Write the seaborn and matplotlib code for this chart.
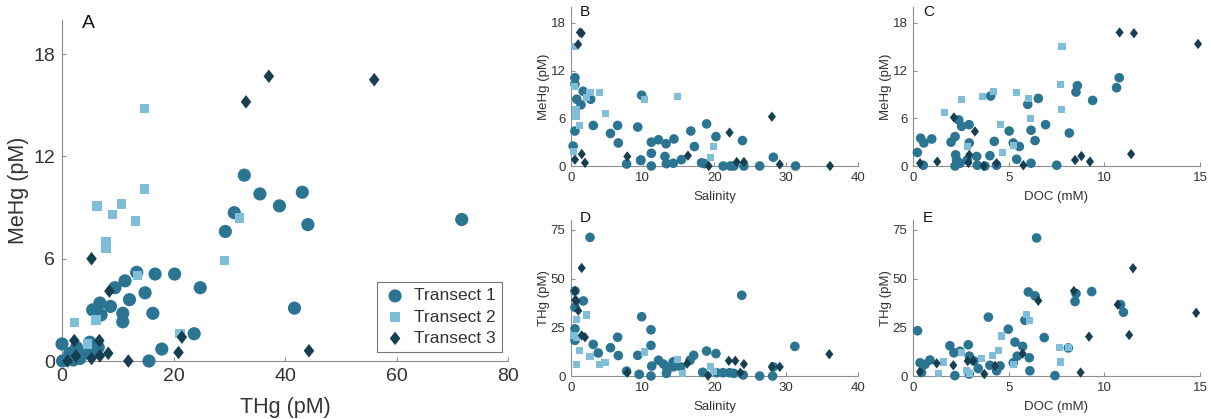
import numpy as np
import pandas as pd
import matplotlib
matplotlib.use("Agg")
import matplotlib.pyplot as plt
import seaborn as sns
from matplotlib.path import Path

sns.set_theme(style="white")
plt.rcParams['font.family'] = ['Liberation Sans', 'DejaVu Sans']

# ---------------- data ----------------
transects = ["Transect 1", "Transect 2", "Transect 3"]

# Panel A: THg vs MeHg
A_thg_t1 = [71.7, 32.7, 35.5, 43.1, 39.0, 44.1, 30.9, 29.3, 41.7, 24.8, 23.7, 20.2, 16.7, 13.4, 14.9, 16.3,
            12.1, 11.3, 9.5, 10.9, 10.9, 8.7, 6.8, 5.5, 7.0, 17.9, 15.6, 0.0, 0.1, 2.0, 2.6, 3.8, 5.0, 5.6,
            1.4, 3.2, 6.5]
A_mehg_t1 = [8.3, 10.9, 9.8, 9.9, 9.1, 8.0, 8.7, 7.6, 3.1, 4.3, 1.6, 5.1, 5.1, 5.2, 4.0, 2.8,
             3.6, 4.7, 4.3, 2.8, 2.3, 3.2, 3.4, 3.0, 2.7, 0.7, 0.0, 1.0, 0.0, 0.06, 0.8, 0.45, 1.1, 0.6,
             0.45, 0.15, 0.8]
A_thg_t2 = [14.8, 14.8, 6.3, 10.7, 9.1, 13.2, 7.9, 7.9, 31.8, 29.1, 13.5, 2.2, 6.1, 4.6, 21.2]
A_mehg_t2 = [14.8, 10.1, 9.1, 9.2, 8.6, 8.2, 7.0, 6.6, 8.4, 5.9, 5.0, 2.25, 2.4, 1.0, 1.6]
A_thg_t3 = [37.1, 56.0, 33.0, 5.3, 8.5, 21.5, 20.9, 44.3, 11.9, 6.7, 2.2, 8.3, 5.3, 2.5, 1.0, 6.8]
A_mehg_t3 = [16.7, 16.5, 15.2, 6.0, 4.1, 1.4, 0.5, 0.6, 0.0, 1.2, 1.2, 0.45, 0.15, 0.3, 0.0, 0.3]

# Panel B: Salinity vs MeHg
B_sal_t1 = [0.55, 0.55, 1.7, 0.8, 1.4, 2.75, 9.85, 3.1, 6.5, 5.5, 6.6, 9.3, 0.55, 0.3, 9.75, 7.75, 11.2,
            11.2, 11.2, 12.2, 13.25, 14.35, 13.1, 13.3, 18.9, 20.2, 17.2, 18.6, 14.25, 15.4, 16.7, 23.9,
            28.2, 26.3, 31.3, 21.2, 22.2, 22.7, 24.1, 18.2, 9.7]
B_mehg_t1 = [11.1, 10.3, 9.4, 8.4, 7.7, 8.4, 8.9, 5.1, 5.1, 4.1, 2.9, 4.9, 4.4, 2.5, 0.76, 0.25, 0.0,
             1.6, 3.0, 3.3, 2.8, 3.4, 1.2, 0.3, 5.3, 3.7, 2.45, 0.3, 0.35, 0.8, 4.4, 3.2,
             1.1, 0.0, 0.0, 0.0, 0.0, 0.0, 0.0, 0.4, 0.7]
B_sal_t2 = [0.55, 2.65, 3.95, 2.2, 10.2, 14.9, 4.75, 0.7, 0.7, 1.25, 19.9, 19.5, 0.3, 0.55]
B_mehg_t2 = [15.0, 9.3, 9.2, 8.6, 8.4, 8.8, 6.6, 7.1, 6.2, 5.1, 2.4, 1.1, 1.8, 10.0]
B_sal_t3 = [1.25, 1.5, 1.0, 1.5, 0.55, 1.95, 7.85, 16.3, 19.2, 22.1, 28.0, 23.1, 24.1, 29.1, 36.1]
B_mehg_t3 = [16.8, 16.7, 15.3, 1.5, 0.8, 0.4, 1.2, 1.3, 0.0, 4.2, 6.2, 0.5, 0.5, 0.2, 0.0]

# Panel C: DOC vs MeHg
C_doc_t1 = [10.64, 10.78, 8.59, 8.52, 9.39, 4.06, 6.55, 6.0, 6.93, 8.17, 2.39, 2.54, 2.93, 2.2, 1.99,
            0.4, 0.57, 0.98, 0.23, 0.54, 2.94, 2.23, 2.28, 2.2, 3.33, 3.36, 4.02, 4.25, 5.03, 5.24,
            5.56, 5.42, 6.17, 6.38, 6.17, 7.51, 2.46, 2.84, 4.37, 3.76]
C_mehg_t1 = [9.85, 11.1, 10.1, 9.3, 8.25, 8.8, 8.5, 7.75, 5.2, 4.15, 5.8, 5.0, 5.2, 3.7, 3.0,
             3.5, 2.9, 3.4, 1.7, 0.1, 2.9, 1.4, 0.75, 0.0, 1.2, 0.1, 1.3, 3.1, 4.4, 2.9,
             2.45, 0.85, 4.5, 3.2, 0.35, 0.1, 0.35, 0.76, 0.1, 0.0]
C_doc_t2 = [7.79, 7.72, 7.77, 5.4, 4.2, 3.64, 2.54, 1.64, 6.03, 6.15, 4.58, 5.24, 4.69, 2.86]
C_mehg_t2 = [15.0, 10.3, 7.1, 9.3, 9.4, 8.8, 8.4, 6.7, 8.5, 6.0, 5.2, 2.6, 1.7, 2.45]
C_doc_t3 = [10.8, 11.55, 14.9, 2.14, 3.24, 2.94, 1.27, 0.37, 2.9, 3.7, 4.37, 5.77, 8.47, 8.8, 9.25, 11.4]
C_mehg_t3 = [16.8, 16.7, 15.35, 6.1, 4.35, 1.4, 0.55, 0.35, 0.4, 0.0, 0.35, 0.1, 0.75, 1.25, 0.55, 1.5]

# Panel D: Salinity vs THg
D_sal_t1 = [2.65, 0.56, 1.72, 0.56, 0.56, 0.56, 3.1, 3.8, 6.5, 5.5, 6.6, 9.85, 11.15, 11.15, 9.3, 11.25,
            9.5, 11.15, 7.75, 12.2, 12.9, 13.3, 13.8, 14.25, 17.1, 16.6, 18.9, 20.2, 18.35, 20.3,
            23.8, 31.2, 28.2, 28.1, 26.3, 21.2, 22.1, 22.7, 24.0, 15.3, 14.3, 13.4]
D_thg_t1 = [71.1, 43.6, 38.5, 35.2, 24.2, 18.3, 16.2, 11.8, 19.9, 14.5, 10.5, 30.4, 23.7, 15.7, 10.6, 5.1,
            0.85, 0.0, 2.5, 8.1, 6.1, 1.35, 4.7, 7.3, 10.6, 8.1, 12.8, 11.5, 1.9, 1.7,
            41.4, 15.2, 4.7, 0.0, 0.0, 1.7, 1.7, 1.35, 0.5, 4.7, 4.7, 3.0]
D_sal_t2 = [2.1, 0.79, 0.79, 1.25, 2.65, 3.95, 4.74, 0.79, 0.3, 10.2, 14.9, 15.5, 19.4, 19.9]
D_thg_t2 = [31.3, 29.2, 19.9, 13.2, 10.1, 6.1, 6.8, 6.1, 20.8, 12.3, 8.6, 1.35, 4.7, 2.2]
D_sal_t3 = [1.49, 0.56, 0.79, 1.02, 1.5, 1.95, 0.56, 7.85, 16.2, 19.1, 22.0, 22.9, 24.1, 23.6, 28.0, 29.1, 36.0]
D_thg_t3 = [55.4, 43.6, 38.5, 33.5, 20.8, 19.9, 38.9, 1.7, 6.4, 0.2, 7.8, 7.8, 6.1, 1.7, 4.7, 4.7, 11.2]

# Panel E: DOC vs THg
E_doc_t1 = [6.46, 0.24, 3.94, 6.03, 6.38, 9.34, 8.52, 8.47, 10.85, 11.0, 5.85, 4.98, 6.86, 8.12, 5.33,
            5.73, 5.45, 6.08, 6.11, 7.42, 1.93, 2.14, 2.89, 2.46, 2.94, 3.19, 0.89, 0.37, 0.63, 0.45,
            2.19, 2.94, 3.41, 4.02, 4.37, 5.24, 4.55]
E_thg_t1 = [70.8, 23.2, 30.2, 43.1, 41.1, 43.3, 42.3, 38.2, 36.6, 32.7, 28.6, 24.0, 19.7, 14.4, 17.4,
            15.2, 10.2, 9.35, 2.7, 0.2, 15.5, 11.9, 16.0, 12.7, 10.2, 7.7, 8.2, 6.8, 6.0, 1.8,
            0.2, 1.0, 3.8, 5.5, 2.7, 6.8, 5.2]
E_doc_t2 = [5.94, 6.11, 4.63, 4.49, 4.16, 3.59, 1.59, 1.32, 2.54, 7.68, 8.12, 7.73, 5.24, 2.8, 2.94]
E_thg_t2 = [31.4, 28.6, 20.5, 13.0, 10.5, 8.9, 7.2, 1.5, 12.2, 14.4, 14.4, 7.2, 6.0, 2.7, 1.5]
E_doc_t3 = [11.5, 14.8, 10.7, 11.3, 9.2, 8.41, 6.55, 5.73, 8.76, 1.24, 0.37, 2.11, 2.86, 3.15, 3.73, 4.29]
E_thg_t3 = [55.3, 32.4, 36.6, 21.0, 20.2, 43.6, 38.6, 11.5, 1.8, 6.5, 2.2, 5.5, 7.7, 7.7, 1.0, 5.2]

# ---------------- style ----------------
colors = {"Transect 1": "#2b7592", "Transect 2": "#7fbdd8", "Transect 3": "#173f52"}
diamond = Path([(0, 1), (0.78, 0), (0, -1), (-0.78, 0), (0, 1)],
               [Path.MOVETO, Path.LINETO, Path.LINETO, Path.LINETO, Path.CLOSEPOLY])
markers = {"Transect 1": "o", "Transect 2": "s", "Transect 3": diamond}
big_sizes = {"Transect 1": 90, "Transect 2": 46, "Transect 3": 95}
small_sizes = {"Transect 1": 48, "Transect 2": 26, "Transect 3": 56}

spine_c = "#8f8f8f"
text_c = "#333333"

fig = plt.figure(figsize=(12.11, 4.19), dpi=100)


def draw(ax, series, sizes):
    for t, (xs, ys) in zip(transects, series):
        df = pd.DataFrame({"x": xs, "y": ys})
        sns.scatterplot(data=df, x="x", y="y", ax=ax, color=colors[t], marker=markers[t],
                        s=sizes[t], linewidth=0, edgecolor="none", label=t,
                        clip_on=False, zorder=3, legend=False)


def style(ax, xlim, ylim, xticks, yticks, xlabel, ylabel, tfs, lfs, tpad, lpad_x, lpad_y):
    ax.set_xlim(*xlim)
    ax.set_ylim(*ylim)
    ax.set_xticks(xticks)
    ax.set_yticks(yticks)
    for s in ["top", "right"]:
        ax.spines[s].set_visible(False)
    for s in ["left", "bottom"]:
        ax.spines[s].set_color(spine_c)
        ax.spines[s].set_linewidth(0.8)
        ax.spines[s].set_zorder(1)
    ax.tick_params(direction="in", length=3, width=0.8, color=spine_c, labelcolor=text_c,
                   labelsize=tfs, pad=tpad, bottom=True, left=True)
    ax.set_xlabel(xlabel, fontsize=lfs, color=text_c, labelpad=lpad_x)
    ax.set_ylabel(ylabel, fontsize=lfs, color=text_c, labelpad=lpad_y)
    ax.set_facecolor("white")


axA = fig.add_axes([0.0512, 0.1384, 0.3683, 0.8138])
draw(axA, [(A_thg_t1, A_mehg_t1), (A_thg_t2, A_mehg_t2), (A_thg_t3, A_mehg_t3)], big_sizes)
style(axA, (0, 80), (0, 20), [0, 20, 40, 60, 80], [0, 6, 12, 18], "THg (pM)", "MeHg (pM)",
      14, 15.5, 5, 9, 3)
leg = axA.legend(loc="lower right", bbox_to_anchor=(0.9865, 0.0264), borderaxespad=0,
                 fontsize=12.5, frameon=True, fancybox=False, handletextpad=0.4,
                 labelspacing=0.35, borderpad=0.35, handlelength=1.4)
leg.get_frame().set_edgecolor("#555555")
leg.get_frame().set_linewidth(0.8)
for txt in leg.get_texts():
    txt.set_color(text_c)

axB = fig.add_axes([0.4715, 0.6038, 0.2370, 0.3795])
draw(axB, [(B_sal_t1, B_mehg_t1), (B_sal_t2, B_mehg_t2), (B_sal_t3, B_mehg_t3)], small_sizes)
style(axB, (0, 40), (0, 20), [0, 10, 20, 30, 40], [0, 6, 12, 18], "Salinity", "MeHg (pM)",
      9.5, 9.5, 4, 5, 0.5)

axC = fig.add_axes([0.7539, 0.6038, 0.2370, 0.3795])
draw(axC, [(C_doc_t1, C_mehg_t1), (C_doc_t2, C_mehg_t2), (C_doc_t3, C_mehg_t3)], small_sizes)
style(axC, (0, 15), (0, 20), [0, 5, 10, 15], [0, 6, 12, 18], "DOC (mM)", "MeHg (pM)",
      9.5, 9.5, 4, 5, 0.5)

axD = fig.add_axes([0.4715, 0.1026, 0.2370, 0.3723])
draw(axD, [(D_sal_t1, D_thg_t1), (D_sal_t2, D_thg_t2), (D_sal_t3, D_thg_t3)], small_sizes)
style(axD, (0, 40), (0, 80), [0, 10, 20, 30, 40], [0, 25, 50, 75], "Salinity", "THg (pM)",
      9.5, 9.5, 4, 5, 0.5)

axE = fig.add_axes([0.7539, 0.1026, 0.2370, 0.3723])
draw(axE, [(E_doc_t1, E_thg_t1), (E_doc_t2, E_thg_t2), (E_doc_t3, E_thg_t3)], small_sizes)
style(axE, (0, 15), (0, 80), [0, 5, 10, 15], [0, 25, 50, 75], "DOC (mM)", "THg (pM)",
      9.5, 9.5, 4, 5, 0.5)

W, H = 1211, 419
for lab, (px, py), fs in [("A", (88, 24), 14), ("B", (585, 12.5), 11), ("C", (929, 12.5), 11),
                          ("D", (585, 218), 11), ("E", (928, 218), 11)]:
    fig.text(px / W, 1 - py / H, lab, ha="center", va="center", fontsize=fs, color="#111111")

fig.savefig("out.png", dpi=100, facecolor="white")
